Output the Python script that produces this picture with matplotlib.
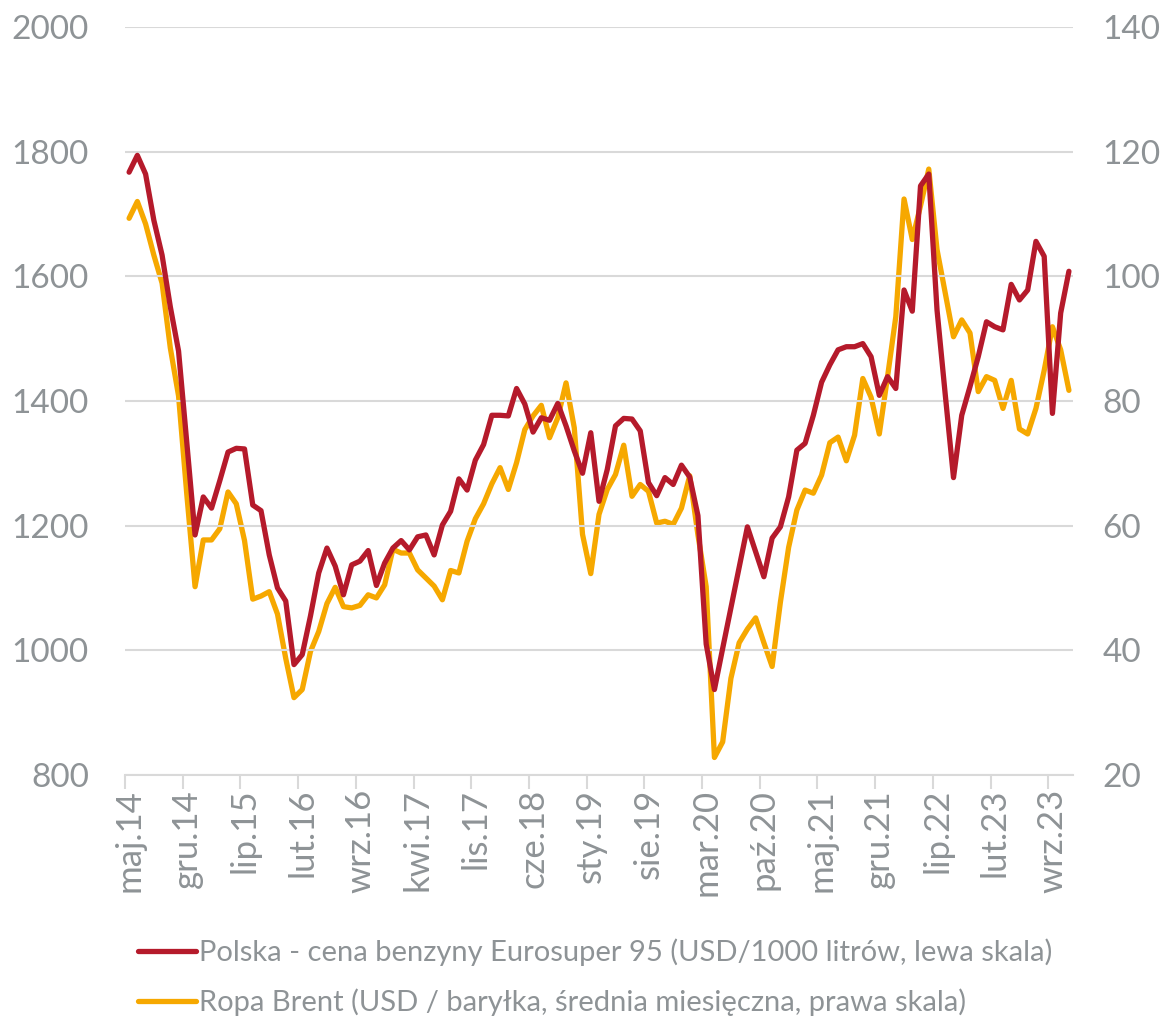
import matplotlib
matplotlib.use("Agg")
import matplotlib.pyplot as plt
import numpy as np

plt.rcParams['font.family'] = ['Lato', 'DejaVu Sans']

# monthly series, maj.14 .. lis.23
petrol_pl = [1767, 1794, 1764, 1690, 1634, 1551, 1480, 1333, 1185, 1246,
             1228, 1272, 1318, 1324, 1323, 1233, 1224, 1153, 1100, 1079,
             977, 993, 1055, 1124, 1164, 1135, 1089, 1137, 1143, 1160,
             1104, 1140, 1164, 1176, 1161, 1182, 1185, 1153, 1201, 1223,
             1275, 1257, 1305, 1330, 1377, 1377, 1376, 1420, 1395, 1350,
             1373, 1369, 1396, 1360, 1320, 1284, 1349, 1239, 1290, 1360,
             1372, 1371, 1352, 1269, 1248, 1277, 1266, 1297, 1278, 1216,
             1010, 937, 1003, 1068, 1133, 1198, 1158, 1118, 1180, 1198,
             1246, 1321, 1332, 1377, 1430, 1458, 1482, 1487, 1487, 1492,
             1471, 1409, 1439, 1420, 1578, 1544, 1745, 1764, 1546, 1410,
             1277, 1377, 1423, 1471, 1527, 1519, 1514, 1587, 1562, 1578,
             1656, 1632, 1380, 1541, 1608]

brent = [109.3, 112.0, 108.4, 103.4, 98.9, 88.5, 80.8, 65.0, 50.2, 57.7,
         57.7, 59.5, 65.4, 63.5, 57.6, 48.2, 48.7, 49.4, 45.8, 38.7,
         32.4, 33.7, 39.8, 43.0, 47.5, 50.1, 47.0, 46.8, 47.2, 48.9,
         48.4, 50.5, 56.2, 55.6, 55.6, 52.9, 51.6, 50.3, 48.1, 52.8,
         52.4, 57.5, 61.1, 63.5, 66.7, 69.3, 65.8, 70.1, 75.4, 77.6,
         79.3, 74.1, 77.3, 82.9, 75.7, 58.6, 52.3, 61.8, 65.8, 68.2,
         72.9, 64.7, 66.6, 65.5, 60.4, 60.7, 60.2, 62.8, 68.0, 58.5,
         50.2, 22.8, 25.3, 35.5, 41.2, 43.4, 45.2, 41.2, 37.4, 47.7,
         56.5, 62.5, 65.7, 65.2, 68.1, 73.3, 74.2, 70.4, 74.5, 83.6,
         80.6, 74.7, 83.9, 93.5, 112.4, 105.9, 111.3, 117.2, 104.3, 97.3,
         90.3, 93.0, 90.9, 81.5, 83.9, 83.3, 78.8, 83.3, 75.5, 74.7,
         78.8, 84.9, 91.9, 88.2, 81.7]

month_labels = ['maj.14', 'gru.14', 'lip.15', 'lut.16', 'wrz.16', 'kwi.17',
                'lis.17', 'cze.18', 'sty.19', 'sie.19', 'mar.20', 'paź.20',
                'maj.21', 'gru.21', 'lip.22', 'lut.23', 'wrz.23']

RED = '#B51A2B'
YELLOW = '#F6A800'
GREY_TXT = '#8E9396'
GRID = '#D9D9D9'

x = np.arange(len(petrol_pl))

fig = plt.figure(figsize=(11.68, 10.21), dpi=100)
ax = fig.add_axes([0.107, 0.241, 0.8117, 0.7326])
ax2 = ax.twinx()

l1, = ax.plot(x, petrol_pl, color=RED, lw=3.8, solid_joinstyle='round',
              solid_capstyle='round', zorder=3,
              label='Polska - cena benzyny Eurosuper 95 (USD/1000 litrów, lewa skala)')
l2, = ax2.plot(x, brent, color=YELLOW, lw=3.8, solid_joinstyle='round',
               solid_capstyle='round', zorder=3,
               label='Ropa Brent (USD / baryłka, średnia miesięczna, prawa skala)')

ax.set_ylim(800, 2000)
ax.set_yticks(np.arange(800, 2001, 200))
ax2.set_ylim(20, 140)
ax2.set_yticks(np.arange(20, 141, 20))
ax.set_xlim(-0.5, len(x) - 0.5)

# grid on the left scale only, behind the lines
ax.set_axisbelow(True)
ax.yaxis.grid(True, color=GRID, lw=1.5)
ax.set_zorder(2)
ax.patch.set_visible(False)
ax2.set_zorder(1)

# labels at every 7th month, tick marks between categories
ax.set_xticks(np.arange(0, len(x), 7))
ax.set_xticklabels(month_labels, rotation=90, ha='center', va='top')
ax.set_xticks(np.arange(0, len(x), 7) - 0.5, minor=True)
ax.tick_params(axis='x', which='major', length=0, pad=10, labelsize=25,
               labelcolor=GREY_TXT)
ax.tick_params(axis='x', which='minor', length=10, width=1.5, color=GRID)
ax.tick_params(axis='y', length=0, pad=26, labelsize=24, labelcolor=GREY_TXT)
ax2.tick_params(axis='y', length=0, pad=21, labelsize=24, labelcolor=GREY_TXT)

for a in (ax, ax2):
    for s in ('top', 'left', 'right', 'bottom'):
        a.spines[s].set_visible(False)
ax.spines['bottom'].set_visible(True)
ax.spines['bottom'].set_color(GRID)
ax.spines['bottom'].set_linewidth(1.5)

leg = fig.legend(handles=[l1, l2], loc='upper left', frameon=False,
                 fontsize=21, handlelength=2.0, handletextpad=0.1,
                 labelspacing=0.75, borderaxespad=0,
                 bbox_to_anchor=(0.108, 0.092))
for t in leg.get_texts():
    t.set_color(GREY_TXT)

fig.savefig('out.png', dpi=100)
